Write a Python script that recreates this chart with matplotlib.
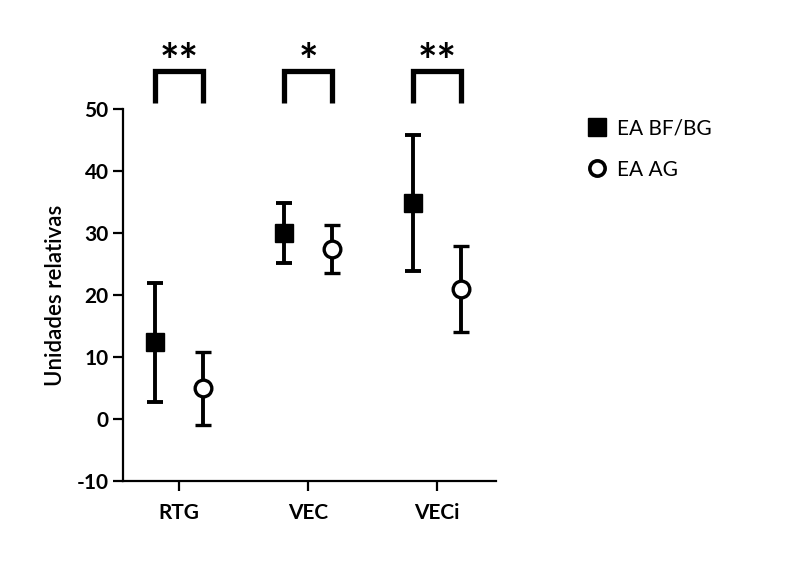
import matplotlib
matplotlib.use('Agg')
from matplotlib import pyplot as plt
from matplotlib.lines import Line2D

categories = ['RTG', 'VEC', 'VECi']
bf_mean = [12.4, 30.0, 34.8]
bf_low = [2.7, 25.2, 23.9]
bf_high = [22.0, 34.8, 45.8]
ag_mean = [5.0, 27.5, 21.0]
ag_low = [-1.0, 23.6, 14.0]
ag_high = [10.8, 31.3, 28.0]
stars = ['**', '*', '**']

plt.rcParams['font.family'] = ['Lato', 'DejaVu Sans']
plt.rcParams['axes.unicode_minus'] = False

fig = plt.figure(figsize=(8, 5.78), dpi=100)
ax = fig.add_axes([0.154, 0.168, 0.466, 0.643])

off = 0.185
x = list(range(len(categories)))
xb = [i - off for i in x]
xa = [i + off for i in x]

bf_err = [[m - lo for m, lo in zip(bf_mean, bf_low)],
          [hi - m for m, hi in zip(bf_mean, bf_high)]]
ag_err = [[m - lo for m, lo in zip(ag_mean, ag_low)],
          [hi - m for m, hi in zip(ag_mean, ag_high)]]

ax.errorbar(xb, bf_mean, yerr=bf_err, fmt='s', color='black',
            markersize=13, markerfacecolor='black', markeredgecolor='black',
            elinewidth=2.8, capsize=5.5, capthick=2.8, zorder=3)
ax.errorbar(xa, ag_mean, yerr=ag_err, fmt='o', color='black',
            markersize=12, markerfacecolor='white', markeredgecolor='black',
            markeredgewidth=2.4, elinewidth=2.8, capsize=5.5, capthick=2.8,
            zorder=3)

# significance brackets
for i in x:
    ax.plot([xb[i], xb[i], xa[i], xa[i]], [51.0, 56.1, 56.1, 51.0],
            color='black', lw=3.8, clip_on=False, solid_joinstyle='miter',
            solid_capstyle='butt')
    ax.text(i, 55.2, stars[i], ha='center', va='baseline', fontsize=33,
            fontweight='bold', clip_on=False)

ax.set_xlim(-0.434, 2.46)
ax.set_ylim(-10, 50)
ax.set_yticks(range(-10, 51, 10))
ax.set_xticks(x)
ax.set_xticklabels(categories)
for side in ['top', 'right']:
    ax.spines[side].set_visible(False)
for side in ['left', 'bottom']:
    ax.spines[side].set_linewidth(1.6)
ax.tick_params(width=1.6, length=7, labelsize=15)
ax.tick_params(axis='x', pad=9)
for lab in ax.get_xticklabels() + ax.get_yticklabels():
    lab.set_fontweight('bold')
ax.set_ylabel('Unidades relativas', fontsize=16, fontweight='semibold', labelpad=8)

handles = [
    Line2D([], [], ls='none', marker='s', markersize=13, color='black'),
    Line2D([], [], ls='none', marker='o', markersize=11, markerfacecolor='white',
           markeredgecolor='black', markeredgewidth=2.6),
]
fig.legend(handles=handles, labels=['EA BF/BG', 'EA AG'],
           loc='upper left', bbox_to_anchor=(0.71, 0.827),
           frameon=False, fontsize=15, handletextpad=0.45,
           labelspacing=1.0, handlelength=1.0)

fig.savefig('out.png', dpi=100)
